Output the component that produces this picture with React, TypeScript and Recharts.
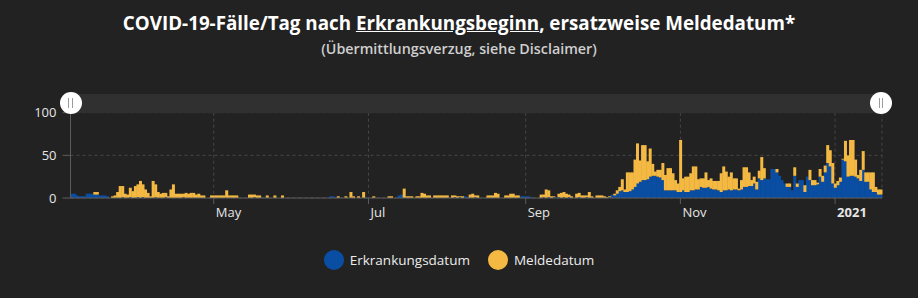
import React from 'react';
import { BarChart, Bar, XAxis, YAxis, CartesianGrid } from 'recharts';

// first day shown on the axis, one bar per day after that
const startDay = '2020-03-06';

const erkrankungsdatum = [
  5, 5, 3, 2, 2, 2, 5, 5, 5, 4,
  4, 3, 3, 3, 2, 0, 0, 0, 0, 0,
  1, 0, 0, 1, 0, 0, 1, 0, 1, 0,
  0, 0, 0, 1, 0, 0, 0, 1, 0, 0,
  0, 0, 0, 0, 1, 0, 0, 0, 0, 0,
  0, 0, 0, 0, 0, 0, 0, 0, 0, 0,
  0, 0, 0, 0, 0, 0, 0, 0, 0, 0,
  0, 0, 1, 0, 0, 1, 0, 0, 0, 0,
  0, 0, 0, 0, 0, 0, 0, 0, 0, 0,
  0, 0, 0, 0, 0, 0, 0, 0, 0, 0,
  0, 0, 2, 2, 0, 0, 0, 0, 0, 0,
  0, 0, 0, 0, 0, 0, 1, 0, 0, 0,
  0, 0, 0, 0, 0, 0, 0, 0, 0, 3,
  4, 0, 0, 0, 0, 0, 0, 0, 0, 0,
  0, 0, 0, 0, 0, 0, 0, 0, 0, 0,
  0, 1, 0, 1, 0, 2, 1, 0, 0, 1,
  0, 0, 0, 0, 0, 0, 0, 0, 0, 0,
  0, 0, 0, 0, 0, 0, 0, 2, 2, 2,
  2, 1, 0, 0, 0, 0, 1, 0, 1, 0,
  1, 0, 1, 0, 1, 0, 1, 0, 0, 0,
  1, 0, 0, 1, 0, 0, 0, 0, 0, 0,
  0, 0, 1, 4, 3, 5, 8, 9, 7, 7,
  8, 10, 13, 17, 19, 21, 21, 22, 25, 26,
  26, 25, 24, 21, 9, 9, 9, 9, 9, 7,
  7, 9, 7, 7, 9, 9, 10, 10, 13, 12,
  12, 13, 11, 10, 10, 9, 7, 9, 9, 10,
  9, 10, 10, 9, 10, 13, 13, 14, 14, 17,
  10, 23, 21, 23, 22, 22, 34, 34, 30, 26,
  21, 17, 13, 13, 9, 26, 13, 21, 21, 7,
  25, 21, 15, 15, 16, 25, 19, 30, 41, 37,
  17, 12, 15, 19, 45, 43, 25, 26, 26, 25,
  23, 20, 33, 19, 19, 10, 7, 7, 4, 4,
];

const meldedatum = [
  0, 0, 0, 0, 0, 0, 0, 0, 0, 3,
  3, 0, 0, 0, 0, 0, 2, 3, 7, 14,
  13, 5, 4, 11, 8, 14, 15, 20, 15, 10,
  6, 2, 20, 15, 7, 5, 6, 5, 2, 10,
  16, 5, 5, 5, 4, 6, 5, 6, 6, 4,
  5, 3, 3, 0, 0, 3, 3, 3, 3, 3,
  3, 9, 3, 3, 3, 3, 0, 0, 0, 0,
  4, 4, 3, 3, 3, 0, 0, 3, 0, 0,
  3, 0, 0, 3, 0, 0, 0, 0, 0, 0,
  0, 0, 0, 0, 0, 0, 0, 0, 0, 0,
  0, 0, 0, 0, 0, 2, 0, 0, 2, 0,
  7, 2, 0, 2, 0, 7, 0, 0, 0, 2,
  0, 0, 0, 0, 0, 2, 2, 0, 0, 0,
  0, 11, 2, 2, 2, 0, 2, 2, 6, 5,
  3, 3, 0, 3, 3, 3, 3, 3, 3, 0,
  3, 2, 2, 1, 2, 0, 0, 4, 5, 2,
  3, 0, 0, 0, 3, 3, 3, 6, 5, 0,
  0, 3, 3, 5, 5, 3, 3, 0, 0, 0,
  0, 0, 0, 0, 0, 4, 3, 10, 8, 2,
  1, 0, 4, 6, 6, 5, 3, 2, 0, 5,
  5, 3, 3, 2, 7, 2, 0, 3, 3, 3,
  2, 1, 1, 0, 2, 4, 5, 13, 3, 23,
  22, 20, 32, 47, 25, 41, 41, 21, 33, 14,
  5, 8, 9, 20, 18, 26, 26, 20, 12, 10,
  61, 14, 18, 18, 20, 28, 27, 12, 10, 11,
  18, 8, 12, 10, 10, 11, 22, 28, 22, 15,
  21, 13, 13, 2, 11, 23, 23, 16, 7, 8,
  9, 9, 27, 12, 0, 0, 0, 0, 4, 0,
  0, 0, 4, 4, 0, 10, 4, 0, 0, 8,
  0, 12, 6, 6, 2, 9, 7, 8, 21, 19,
  24, 5, 5, 5, 1, 24, 25, 42, 42, 20,
  4, 13, 22, 11, 11, 20, 23, 6, 6, 6,
];

const monthTicks = ['2020-05-01', '2020-07-01', '2020-09-01', '2020-11-01', '2021-01-01'];
const monthLabels = ['May', 'Jul', 'Sep', 'Nov', '2021'];
const yTicks = [0, 50, 100];

const BLUE = '#0a4ea3';
const YELLOW = '#f4b942';
const BG = '#222222';
const FONT = '"Open Sans", "Noto Sans", sans-serif';

const rows = erkrankungsdatum.map((erk, i) => {
  const d = new Date(Date.parse(startDay + 'T00:00:00Z') + i * 86400000);
  return { date: d.toISOString().slice(0, 10), erk, melde: meldedatum[i] };
});

function MonthTick(props: any) {
  const { x, y, payload } = props;
  const idx = monthTicks.indexOf(payload.value);
  const label = monthLabels[idx];
  const isYear = /^\d+$/.test(label);
  return (
    <text x={x + 2} y={y + 11} fill="#e6e6e6" fontSize={13} fontFamily={FONT}
      fontWeight={isYear ? 700 : 400} textAnchor="start">
      {label}
    </text>
  );
}

function Handle({ left }: { left: number }) {
  return (
    <div style={{
      position: 'absolute', left: left - 11, top: 91.5, width: 22, height: 22,
      borderRadius: '50%', background: '#fff',
    }}>
      <div style={{ position: 'absolute', left: 8.5, top: 6, width: 1, height: 10, background: '#9a9a9a' }} />
      <div style={{ position: 'absolute', left: 12, top: 6, width: 1, height: 10, background: '#9a9a9a' }} />
    </div>
  );
}

export default function App() {
  return (
    <div style={{ position: 'fixed', left: 0, top: 0, width: 918, height: 298, background: BG, fontFamily: FONT, overflow: 'hidden' }}>
      <div style={{ position: 'absolute', top: 9.5, left: 0, width: 918, textAlign: 'center', color: '#fff', fontSize: 18.8, fontWeight: 700 }}>
        COVID-19-Fälle/Tag nach <span style={{ textDecoration: 'underline' }}>Erkrankungsbeginn</span>, ersatzweise Meldedatum*
      </div>
      <div style={{ position: 'absolute', top: 38.5, left: 0, width: 918, textAlign: 'center', color: '#cfcfcf', fontSize: 14.3, fontWeight: 600 }}>
        (Übermittlungsverzug, siehe Disclaimer)
      </div>

      <div style={{ position: 'absolute', left: 0, top: 0 }}>
        <BarChart width={918} height={298} data={rows} barCategoryGap={0} barGap={0}
          margin={{ top: 112.7, right: 36, bottom: 70, left: 20.5 }}>
          <CartesianGrid stroke="#474747" strokeDasharray="3 3" />
          <XAxis dataKey="date" ticks={monthTicks} tick={<MonthTick />} interval={0}
            height={30} tickSize={6} tickMargin={2}
            axisLine={{ stroke: '#5c5c5c' }} tickLine={{ stroke: '#5c5c5c' }} />
          <YAxis domain={[0, 100]} ticks={yTicks} width={50} tickSize={8} tickMargin={6}
            axisLine={{ stroke: '#5c5c5c' }} tickLine={{ stroke: '#5c5c5c' }}
            tick={{ fill: '#e6e6e6', fontSize: 13, fontFamily: FONT }} />
          <Bar dataKey="erk" stackId="a" fill={BLUE} isAnimationActive={false} />
          <Bar dataKey="melde" stackId="a" fill={YELLOW} isAnimationActive={false} />
        </BarChart>
      </div>

      <div style={{ position: 'absolute', left: 70, top: 94, width: 812, height: 19, background: '#303030' }} />
      <Handle left={70.8} />
      <Handle left={881.3} />

      <div style={{ position: 'absolute', top: 250, left: 0, width: 918, display: 'flex', justifyContent: 'center', alignItems: 'center', color: '#ececec', fontSize: 13.5 }}>
        <span style={{ display: 'inline-block', width: 20, height: 20, borderRadius: '50%', background: BLUE, marginRight: 6 }} />
        <span style={{ marginRight: 18 }}>Erkrankungsdatum</span>
        <span style={{ display: 'inline-block', width: 20, height: 20, borderRadius: '50%', background: YELLOW, marginRight: 6 }} />
        <span>Meldedatum</span>
      </div>
    </div>
  );
}
